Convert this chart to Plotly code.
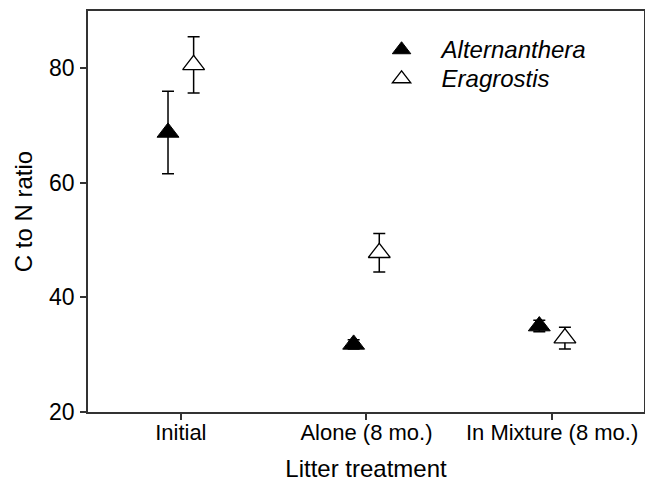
import plotly.graph_objects as go

categories = ["Initial", "Alone (8 mo.)", "In Mixture (8 mo.)"]
alt_values = [68.8, 31.8, 35.0]
alt_errors = [7.2, 0.8, 1.0]
era_values = [80.6, 47.8, 32.9]
era_errors = [4.9, 3.35, 1.9]
y_ticks = [20, 40, 60, 80]

FONT = "Liberation Sans, Arial, Helvetica, sans-serif"
NB = "\u00a0" * 3


def legend_label(name):
    return '<span style="font-size:24px">' + NB + "<i>" + name + "</i></span>"


base_x = list(range(len(categories)))
off = 0.069

fig = go.Figure()
fig.add_trace(go.Scatter(
    x=[b - off for b in base_x], y=alt_values,
    mode="markers", name=legend_label("Alternanthera"),
    marker=dict(symbol="triangle-up", size=19, color="black",
                line=dict(color="black", width=1)),
    error_y=dict(type="data", array=alt_errors, visible=True,
                 color="black", thickness=1.5, width=6),
))
fig.add_trace(go.Scatter(
    x=[b + off for b in base_x], y=era_values,
    mode="markers", name=legend_label("Eragrostis"),
    marker=dict(symbol="triangle-up", size=19, color="white",
                line=dict(color="black", width=1.3)),
    error_y=dict(type="data", array=era_errors, visible=True,
                 color="black", thickness=1.5, width=6),
))

fig.update_layout(
    width=645, height=482,
    margin=dict(l=88, r=1, t=11, b=70, autoexpand=False),
    paper_bgcolor="white", plot_bgcolor="white",
    font=dict(family=FONT, color="black", size=20),
    showlegend=True,
    legend=dict(x=0.528, y=0.952, xanchor="left", yanchor="top",
                bgcolor="rgba(0,0,0,0)", font=dict(size=20, family=FONT),
                tracegroupgap=0, itemsizing="trace"),
    xaxis=dict(
        range=[-0.5, 2.495], tickmode="array", tickvals=base_x, ticktext=categories,
        showgrid=False, zeroline=False, showline=True, linecolor="#333", linewidth=1.5,
        mirror=True, ticks="outside", ticklen=6, tickcolor="#333", tickwidth=1.5,
        tickfont=dict(size=22), ticklabelstandoff=-6, automargin=False,
        title=dict(text="Litter treatment", font=dict(size=24), standoff=17),
    ),
    yaxis=dict(
        range=[20, 90], tickmode="array", tickvals=y_ticks,
        showgrid=False, zeroline=False, showline=True, linecolor="#333", linewidth=1.5,
        mirror=True, ticks="outside", ticklen=6, tickcolor="#333", tickwidth=1.5,
        tickfont=dict(size=23), ticklabelstandoff=1, automargin=False,
        title=dict(text="C to N ratio", font=dict(size=24), standoff=10),
    ),
)

fig.write_html("out.html", config={"displayModeBar": False},
               post_script="document.body.style.margin='0px';document.body.style.padding='0px';")
